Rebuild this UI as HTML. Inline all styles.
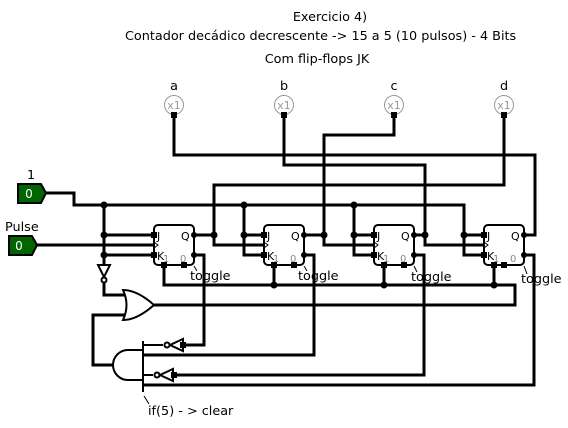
<!DOCTYPE html>
<html><head><meta charset="utf-8"><style>
html,body{margin:0;padding:0;background:#fff;}
svg{display:block;font-family:"DejaVu Sans","Liberation Sans",sans-serif;}
</style></head><body>
<svg width="568" height="428" viewBox="0 0 568 428" xmlns="http://www.w3.org/2000/svg">
<g font-size="12.8" fill="#000">
<text x="330" y="21" text-anchor="middle">Exercicio 4)</text>
<text x="125" y="40">Contador decádico decrescente -&gt; 15 a 5  (10 pulsos) - 4 Bits</text>
<text x="317" y="63" text-anchor="middle">Com flip-flops JK</text>
<text x="174" y="90" text-anchor="middle">a</text>
<text x="284" y="90" text-anchor="middle">b</text>
<text x="394" y="90" text-anchor="middle">c</text>
<text x="504" y="90" text-anchor="middle">d</text>
<text x="27" y="179">1</text>
<text x="5" y="231">Pulse</text>
<text x="148" y="415">if(5) - &gt; clear</text>
<text x="190" y="280">toggle</text>
<text x="298" y="280">toggle</text>
<text x="411" y="281">toggle</text>
<text x="521" y="283">toggle</text>
</g>
<g stroke="#000" stroke-width="1" fill="none">
<path d="M144 396 L149 404"/>
<path d="M194 266 L197 271 M304 266 L307 271 M414 266 L417 272 M524 266 L527 274"/>
</g>
<!-- probes -->
<g stroke="#999" fill="none" stroke-width="1">
<circle cx="174" cy="105" r="9.5"/><circle cx="284" cy="105" r="9.5"/><circle cx="394" cy="105" r="9.5"/><circle cx="504" cy="105" r="9.5"/>
</g>
<g font-size="11" fill="#999" text-anchor="middle">
<text x="174" y="109">x1</text><text x="284" y="109">x1</text><text x="394" y="109">x1</text><text x="504" y="109">x1</text>
</g>
<g fill="#000">
<rect x="171" y="112" width="6" height="6"/><rect x="281" y="112" width="6" height="6"/><rect x="391" y="112" width="6" height="6"/><rect x="501" y="112" width="6" height="6"/>
</g>
<!-- inputs -->
<path d="M18 184 H41 L46 193 L41 203 H18 Z" fill="#006400" stroke="#000" stroke-width="2"/>
<path d="M9 236 H32 L37 245 L32 255 H9 Z" fill="#006400" stroke="#000" stroke-width="2"/>
<text x="29" y="198" fill="#fff" font-size="12" text-anchor="middle">0</text>
<text x="19" y="250" fill="#fff" font-size="12" text-anchor="middle">0</text>
<!-- wires -->
<g stroke="#000" stroke-width="3" fill="none" stroke-linejoin="miter">
<path d="M46 193 H74 V205 H464 V255 H484"/>
<path d="M464 235 H484"/>
<path d="M37 245 H154"/>
<path d="M104 205 V265"/>
<path d="M104 235 H154 M104 255 H154"/>
<path d="M244 205 V255 H264 M244 235 H264"/>
<path d="M354 205 V255 H374 M354 235 H374"/>
<path d="M174 118 V155 H535 V235 H524"/>
<path d="M284 118 V165 H425 V245 H484 M414 235 H425"/>
<path d="M394 118 V135 H324 V245 H374 M304 235 H324"/>
<path d="M504 118 V185 H214 V245 H264 M194 235 H214"/>
<path d="M164 265 V285 H515 V305 H154"/>
<path d="M274 265 V285 M384 265 V285 M494 265 V285"/>
<path d="M194 255 H204 V345 H183"/>
<path d="M304 255 H314 V355 H143"/>
<path d="M414 255 H424 V375 H175"/>
<path d="M524 255 H534 V385 H143"/>
<path d="M104 282 V295 H127"/>
<path d="M113 365 H93 V315 H127"/>
</g>
<g stroke="#000" stroke-width="2" fill="none">
<path d="M143 341 V392"/>
<path d="M143 345 H163 M143 375 H153"/>
<path d="M143 350 H128 A15 15 0 0 0 128 380 H143"/>
<path d="M123 290 Q137 290 154 305 Q137 320 123 320 Q130 305 123 290 Z" fill="#fff"/>
<path d="M98 265 H110 L104 277 Z" fill="#fff"/>
<circle cx="104" cy="280" r="2.5" fill="#fff"/>
<path d="M183 339 V351 L170 345 Z" fill="#fff"/>
<circle cx="167" cy="345" r="2.5" fill="#fff"/>
<path d="M173 369 V381 L160 375 Z" fill="#fff"/>
<circle cx="157" cy="375" r="2.5" fill="#fff"/>
</g>
<!-- flip flops -->
<g stroke="#000" stroke-width="2" fill="#fff">
<rect x="154" y="225" width="40" height="40" rx="4"/>
<rect x="264" y="225" width="40" height="40" rx="4"/>
<rect x="374" y="225" width="40" height="40" rx="4"/>
<rect x="484" y="225" width="40" height="40" rx="4"/>
</g>
<g font-size="11" fill="#000">
<text x="157" y="240">J</text><text x="157" y="260">K</text><text x="181" y="240">Q</text>
<text x="267" y="240">J</text><text x="267" y="260">K</text><text x="291" y="240">Q</text>
<text x="377" y="240">J</text><text x="377" y="260">K</text><text x="401" y="240">Q</text>
<text x="487" y="240">J</text><text x="487" y="260">K</text><text x="511" y="240">Q</text>
</g>
<g font-size="10" fill="#888">
<text x="163" y="262">1</text><text x="180" y="262">0</text>
<text x="273" y="262">1</text><text x="290" y="262">0</text>
<text x="383" y="262">1</text><text x="400" y="262">0</text>
<text x="493" y="262">1</text><text x="510" y="262">0</text>
</g>
<g stroke="#000" stroke-width="1" fill="none">
<path d="M154 242 L158 245 L154 248 M264 242 L268 245 L264 248 M374 242 L378 245 L374 248 M484 242 L488 245 L484 248"/>
</g>
<g fill="#000">
<rect x="151" y="232" width="6" height="6"/><rect x="151" y="252" width="6" height="6"/>
<rect x="261" y="232" width="6" height="6"/><rect x="261" y="252" width="6" height="6"/>
<rect x="371" y="232" width="6" height="6"/><rect x="371" y="252" width="6" height="6"/>
<rect x="481" y="232" width="6" height="6"/><rect x="481" y="252" width="6" height="6"/>
<rect x="161" y="262" width="6" height="6"/><rect x="181" y="262" width="6" height="6"/>
<rect x="271" y="262" width="6" height="6"/><rect x="291" y="262" width="6" height="6"/>
<rect x="381" y="262" width="6" height="6"/><rect x="401" y="262" width="6" height="6"/>
<rect x="491" y="262" width="6" height="6"/><rect x="501" y="262" width="6" height="6"/>
</g>
<!-- dots -->
<g fill="#000">
<circle cx="104" cy="205" r="3.5"/><circle cx="104" cy="235" r="3.5"/><circle cx="104" cy="255" r="3.5"/>
<circle cx="244" cy="205" r="3.5"/><circle cx="244" cy="235" r="3.5"/>
<circle cx="354" cy="205" r="3.5"/><circle cx="354" cy="235" r="3.5"/>
<circle cx="464" cy="235" r="3.5"/>
<circle cx="214" cy="235" r="3.5"/><circle cx="324" cy="235" r="3.5"/><circle cx="425" cy="235" r="3.5"/>
<circle cx="194" cy="235" r="3"/><circle cx="304" cy="235" r="3"/><circle cx="414" cy="235" r="3"/><circle cx="524" cy="235" r="3"/>
<circle cx="194" cy="255" r="3"/><circle cx="304" cy="255" r="3"/><circle cx="414" cy="255" r="3"/><circle cx="524" cy="255" r="3"/>
<circle cx="274" cy="285" r="3.5"/><circle cx="384" cy="285" r="3.5"/><circle cx="494" cy="285" r="3.5"/>
<rect x="180" y="342" width="6" height="6"/><rect x="171" y="372" width="6" height="6"/>
</g>
</svg>
</body></html>
